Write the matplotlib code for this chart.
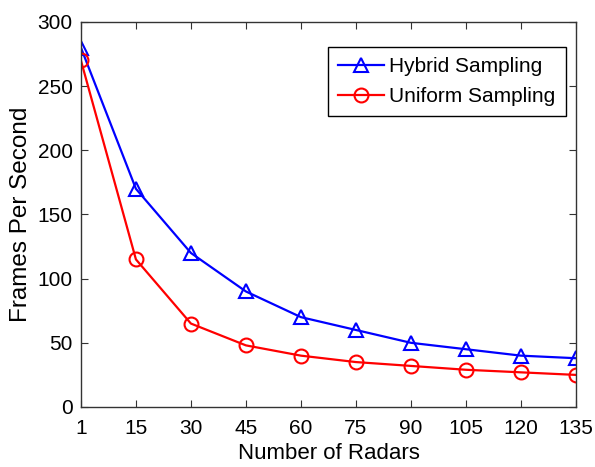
import numpy as np
import matplotlib
matplotlib.use("Agg")
import matplotlib.pyplot as plt

plt.rcParams['font.family'] = ['Liberation Sans', 'DejaVu Sans']

radars = ['1', '15', '30', '45', '60', '75', '90', '105', '120', '135']
hybrid = [280, 170, 120, 90, 70, 60, 50, 45, 40, 38]
uniform = [270, 115, 65, 48, 40, 35, 32, 29, 27, 25]

fig = plt.figure(figsize=(5.95, 4.67), dpi=100)
ax = fig.add_axes([0.136, 0.1285, 0.832, 0.8245])

x = np.arange(len(radars))
ax.plot(x, hybrid, color='#0000ff', lw=1.6, marker='^', ms=10, mfc='none',
        mew=1.5, label='Hybrid Sampling')
ax.plot(x, uniform, color='#ff0000', lw=1.6, marker='o', ms=10, mfc='none',
        mew=1.5, label='Uniform Sampling')

ax.set_xlim(0, len(radars) - 1)
ax.set_ylim(0, 300)
ax.set_xticks(x)
ax.set_xticklabels(radars)
ax.set_yticks(np.arange(0, 301, 50))
ax.tick_params(direction='in', top=True, right=True, labelsize=15, length=5,
               width=0.8, colors='#333333', labelcolor='black', pad=6)
ax.tick_params(axis='x', pad=9)
for s in ax.spines.values():
    s.set_color('#333333')
    s.set_linewidth(1)

ax.set_xlabel('Number of Radars', fontsize=16, labelpad=3)
ax.set_ylabel('Frames Per Second', fontsize=17.5, labelpad=4)

leg = ax.legend(loc='upper right', bbox_to_anchor=(0.98, 0.935), fontsize=15,
                fancybox=False, framealpha=1, edgecolor='black',
                handlelength=2.2, handletextpad=0.25, borderpad=0.5,
                borderaxespad=0, labelspacing=0.5)
leg.get_frame().set_linewidth(1)

fig.savefig('out.png', dpi=100)
